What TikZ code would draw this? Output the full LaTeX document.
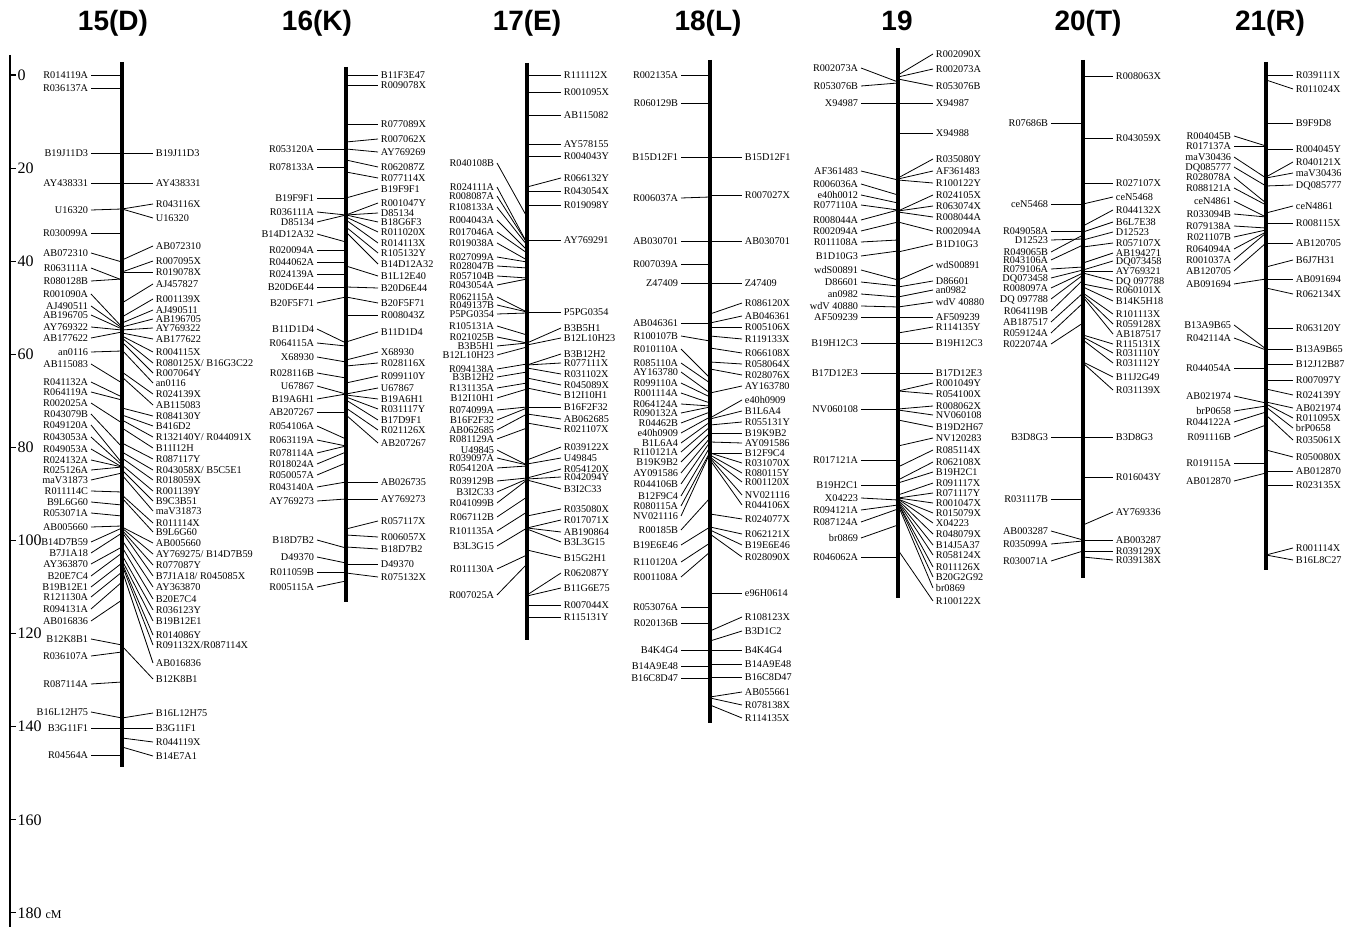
\documentclass[tikz,border=0pt]{standalone}
\usepackage{fontspec}
\setmainfont{Liberation Serif}
\newfontfamily\titlefont{Liberation Sans}
\tikzset{
  lab/.style={font=\fontsize{7.7}{8}\selectfont, inner xsep=2pt, inner ysep=0pt, text height=5.2pt, text depth=0pt},
  conn/.style={line width=0.6pt},
  chrbar/.style={line width=2.3pt},
  ttl/.style={font=\titlefont\bfseries\fontsize{21}{24}\selectfont, inner sep=0pt, anchor=base},
  axlab/.style={font=\fontsize{12}{13}\selectfont, inner sep=1pt, anchor=west},
}
\newcommand\chromo[8]{%
  \foreach \ty/\by/\tx [count=\i] in {#7} {%
    \node[lab,anchor=east] (#1L\i) at (#5,\ty) {\tx};
    \coordinate (#1l\i) at (#2,\by);
    \draw[conn] (#1L\i.east) -- (#1l\i);
  }%
  \foreach \ty/\by/\tx [count=\i] in {#8} {%
    \node[lab,anchor=west] (#1R\i) at (#6,\ty) {\tx};
    \coordinate (#1r\i) at (#2,\by);
    \draw[conn] (#1r\i) -- (#1R\i.west);
  }%
  \coordinate (#1top) at (#2,#3);
  \coordinate (#1bot) at (#2,#4);
  \draw[chrbar] (#1top) -- (#1bot);
}
\begin{document}
\begin{tikzpicture}[x=0.75pt,y=-0.75pt]
\fill[white] (0,0) rectangle (1360,930);
\path[use as bounding box] (0,0) rectangle (1360,930);

% axis
\coordinate (axtop) at (10,55);
\coordinate (axbot) at (10,927);
\draw[line width=1.6pt] (axtop) -- (axbot);
\foreach \v/\s [count=\k] in {0/0,20/20,40/40,60/60,80/80,100/100,120/120,140/140,160/160,180/{180 {\fontsize{9}{10}\selectfont cM}}} {
  \coordinate (tk\k) at (10,{75+4.655*\v});
  \coordinate (tke\k) at (16,{75+4.655*\v});
  \draw[line width=0.8pt] (tk\k) -- (tke\k);
  \node[axlab] (al\k) at (tke\k) {\s};
}

% titles
\node[ttl] (tD) at (113,31) {15(D)};
\node[ttl] (tK) at (317,31) {16(K)};
\node[ttl] (tE) at (527,31) {17(E)};
\node[ttl] (tL) at (708,31) {18(L)};
\node[ttl] (t19) at (897,31) {19};
\node[ttl] (tT) at (1088,31) {20(T)};
\node[ttl] (tR) at (1270,31) {21(R)};

% 15(D)
\chromo{D}{122}{62}{767}{91}{153}{
75/75/R014119A, 88/88/R036137A, 153/153/B19J11D3, 183/183/AY438331, 210/209/U16320,
233/233/R030099A, 253/262/AB072310, 268/280/R063111A, 281/279/R080128B, 294/327/R001090A,
306/328/AJ490511, 315/329/AB196705, 327/330/AY769322, 338/332/AB177622, 352/351/an0116,
364/383/AB115083, 382/397/R041132A, 392/400/R064119A, 403/423/R002025A, 414/447/R043079B,
425/463/R049120A, 437/465/R043053A, 449/467/R049053A, 460/467/R024132A, 470/467/R025126A,
480/473/maV31873, 491/492/R011114C, 502/505/B9L6G60, 513/516/R053071A, 527/526/AB005660,
542/528/B14D7B59, 553/533/B7J1A18, 564/547/AY363870, 576/553/B20E7C4, 587/563/B19B12E1,
597/572/R121130A, 609/582/R094131A, 621/600/AB016836, 639/645/B12K8B1, 656/652/R036107A,
684/682/R087114A, 712/718/B16L12H75, 728/728/B3G11F1, 755/755/R04564A}{
153/153/B19J11D3, 183/183/AY438331, 204/209/R043116X, 218/209/U16320, 246/260/AB072310,
261/272/R007095X, 272/272/R019078X, 284/303/AJ457827, 299/317/R001139X, 310/323/AJ490511,
319/327/AB196705, 328/330/AY769322, 339/333/AB177622, 352/336/R004115X, 363/338/{R080125X/ B16G3C22},
373/342/R007064Y, 383/350/an0116, 394/372/R024139X, 405/377/AB115083, 416/408/R084130Y,
426/415/B416D2, 437/420/{R132140Y/ R044091X}, 448/428/B11I12H, 459/443/R087117Y, 470/452/{R043058X/ B5C5E1},
480/458/R018059X, 491/465/R001139Y, 501/470/B9C3B51, 511/475/maV31873, 523/495/R011114X,
532/498/B9L6G60, 543/527/AB005660, 554/528/{AY769275/ B14D7B59}, 565/530/R077087Y, 576/532/{B7J1A18/ R045085X},
587/540/AY363870, 599/547/B20E7C4, 610/555/R036123Y, 621/560/B19B12E1, 635/563/R014086Y,
645/565/{R091132X/R087114X}, 663/570/AB016836, 679/646/B12K8B1, 713/718/B16L12H75, 728/728/B3G11F1,
742/738/R044119X, 756/747/B14E7A1}

% 16(K)
\chromo{K}{346}{67}{602}{317}{378}{
149/149/R053120A, 167/167/R078133A, 198/198/B19F9F1, 212/215/R036111A, 222/215/D85134,
234/242/B14D12A32, 250/250/R020094A, 262/262/R044062A, 274/274/R024139A, 287/287/B20D6E44,
303/297/B20F5F71, 329/343/B11D1D4, 343/346/R064115A, 357/362/X68930, 373/378/R028116B,
386/394/U67867, 399/394/B19A6H1, 412/412/AB207267, 426/439/R054106A, 440/446/R063119A,
453/446/R078114A, 464/452/R018024A, 475/463/R050057A, 487/482/R043140A, 501/499/AY769273,
540/548/B18D7B2, 557/563/D49370, 572/572/R011059B, 587/581/R005115A}{
75/75/B11F3E47, 85/85/R009078X, 124/124/R077089X, 139/142/R007062X, 152/149/AY769269,
167/160/R062087Z, 178/172/R077114X, 189/198/B19F9F1, 203/215/R001047Y, 213/215/D85134,
222/215/B18G6F3, 232/217/R011020X, 243/220/R014113X, 253/227/R105132Y, 264/232/B14D12A32,
276/266/B1L12E40, 288/287/B20D6E44, 303/297/B20F5F71, 315/315/R008043Z, 332/342/B11D1D4,
352/360/X68930, 363/366/R028116X, 376/383/R099110Y, 388/394/U67867, 399/395/B19A6H1,
409/397/R031117Y, 420/400/B17D9F1, 430/408/R021126X, 443/415/AB207267, 482/482/AB026735,
499/499/AY769273, 521/529/R057117X, 537/535/R006057X, 549/547/B18D7B2, 564/564/D49370,
577/573/R075132X}

% 17(E)
\chromo{E}{527}{63}{640}{497}{561}{
163/217/R040108B, 187/243/R024111A, 196/243/R008087A, 207/245/R108133A, 220/250/R004043A,
232/253/R017046A, 243/260/R019038A, 257/262/R027099A, 266/268/R028047B, 276/278/R057104B,
285/279/R043054A, 297/312/R062115A, 305/312/R049137B, 314/313/P5PG0354, 326/335/R105131A,
337/343/R021025B, 346/343/B3B5H1, 355/347/B12L10H23, 369/364/R094138A, 377/372/B3B12H2,
388/383/R131135A, 398/389/B12I10H1, 410/407/R074099A, 420/408/B16F2F32, 430/414/AB062685,
439/428/R081129A, 450/465/U49845, 458/465/R039097A, 468/466/R054120A, 481/478/R039129B,
492/479/B3I2C33, 503/480/R041099B, 517/497/R067112B, 531/512/R101135A, 546/528/B3L3G15,
569/555/R011130A, 595/564/R007025A}{
75/75/R111112X, 92/92/R001095X, 115/115/AB115082, 144/144/AY578155, 156/156/R004043Y,
178/187/R066132Y, 191/191/R043054X, 205/205/R019098Y, 240/240/AY769291, 312/312/P5PG0354,
328/343/B3B5H1, 338/345/B12L10H23, 354/365/B3B12H2, 363/365/R077111X, 374/368/R031102X,
385/378/R045089X, 395/388/B12I10H1, 407/407/B16F2F32, 419/414/AB062685, 429/423/R021107X,
447/460/R039122X, 458/464/U49845, 469/478/R054120X, 477/479/R042094Y, 489/480/B3I2C33,
509/516/R035080X, 520/528/R017071X, 532/528/AB190864, 542/529/B3L3G15, 558/550/B15G2H1,
573/595/R062087Y, 588/596/B11G6E75, 605/605/R007044X, 617/617/R115131Y}

% 18(L)
\chromo{L}{710}{60}{723}{681}{742}{
75/75/R002135A, 103/103/R060129B, 157/157/B15D12F1, 198/197/R006037A, 241/241/AB030701,
264/264/R007039A, 283/283/Z47409, 323/323/AB046361, 336/341/R100107B, 349/378/R010110A,
363/383/R085110A, 372/393/AY163780, 383/397/R099110A, 393/403/R001114A, 404/406/R064124A,
413/407/R090132A, 423/412/R04462B, 433/417/e40h0909, 443/422/B1L6A4, 452/427/R110121A,
462/433/B19K9B2, 473/438/AY091586, 484/442/R044106B, 496/447/B12F9C4, 506/452/R080115A,
516/453/NV021116, 530/498/R00185B, 545/527/B19E6E46, 562/543/R110120A, 577/552/R001108A,
607/607/R053076A, 623/623/R020136B, 650/650/B4K4G4, 666/666/B14A9E48, 678/678/B16C8D47}{
157/157/B15D12F1, 195/195/R007027X, 241/241/AB030701, 283/283/Z47409, 303/314/R086120X,
316/323/AB046361, 327/327/R005106X, 339/336/R119133X, 353/348/R066108X, 364/362/R058064X,
375/369/R028076X, 386/393/AY163780, 400/418/e40h0909, 411/419/B1L6A4, 422/425/R055131Y,
433/433/B19K9B2, 443/442/AY091586, 453/453/B12F9C4, 463/453/R031070X, 473/455/R080115Y,
482/457/R001120X, 495/458/NV021116, 505/460/R044106X, 519/514/R024077X, 534/527/R062121X,
545/530/B19E6E46, 557/534/R028090X, 593/593/e96H0614, 617/631/R108123X, 631/641/B3D1C2,
650/650/B4K4G4, 664/664/B14A9E48, 677/677/B16C8D47, 692/697/AB055661, 705/698/R078138X,
718/705/R114135X}

% 19
\chromo{N}{898}{48}{598}{861}{933}{
68/82/R002073A, 86/83/R053076B, 103/103/X94987, 171/180/AF361483, 184/195/R006036A,
195/203/e40h0012, 205/210/R077110A, 220/210/R008044A, 231/222/R002094A, 242/240/R011108A,
256/251/B1D10G3, 270/280/wdS00891, 282/286/D86601, 294/297/an0982, 306/307/{wdV 40880},
317/317/AF509239, 343/343/B19H12C3, 373/373/B17D12E3, 409/409/NV060108, 460/460/R017121A,
485/485/B19H2C1, 498/500/X04223, 510/505/R094121A, 522/509/R087124A, 538/525/br0869,
557/557/R046062A}{
54/75/R002090X, 69/77/R002073A, 86/79/R053076B, 103/103/X94987, 133/133/X94988,
159/178/R035080Y, 171/179/AF361483, 183/180/R100122Y, 195/211/R024105X, 206/211/R063074X,
217/212/R008044A, 231/222/R002094A, 244/252/B1D10G3, 265/280/wdS00891, 281/287/D86601,
290/297/an0982, 302/307/{wdV 40880}, 317/317/AF509239, 327/333/R114135Y, 343/343/B19H12C3,
373/373/B17D12E3, 383/391/R001049Y, 394/391/R054100X, 406/409/R008062X, 415/410/NV060108,
427/420/B19D2H67, 438/446/NV120283, 450/467/R085114X, 462/480/R062108X, 472/483/B19H2C1,
483/495/R091117X, 493/498/R071117Y, 503/498/R001047X, 513/499/R015079X, 523/499/X04223,
534/500/R048079X, 545/501/B14J5A37, 555/502/R058124X, 567/503/R011126X, 577/503/B20G2G92,
588/505/br0869, 601/550/R100122X}

% 20(T)
\chromo{T}{1083}{60}{578}{1051}{1113}{
123/123/R07686B, 204/204/ceN5468, 231/231/R049058A, 240/239/D12523, 252/235/R049065B,
260/245/R043106A, 269/267/R079106A, 278/270/DQ073458, 288/273/R008097A, 299/275/{DQ 097788},
311/280/R064119B, 322/293/AB187517, 333/303/R059124A, 344/323/R022074A, 437/437/B3D8G3,
499/499/R031117B, 531/540/AB003287, 544/541/R035099A, 561/551/R030071A}{
76/76/R008063X, 138/138/R043059X, 183/183/R027107X, 197/204/ceN5468, 210/226/R044132X,
222/232/B6L7E38, 232/240/D12523, 243/247/R057107X, 253/263/AB194271, 261/270/DQ073458,
271/271/AY769321, 281/273/{DQ 097788}, 290/284/R060101X, 301/287/B14K5H18, 314/293/R101113X,
324/295/R059128X, 334/297/AB187517, 344/335/R115131X, 353/337/R031110Y, 363/340/R031112Y,
377/362/B11J2G49, 390/363/R031139X, 437/437/B3D8G3, 477/477/R016043Y, 512/525/AY769336,
540/540/AB003287, 551/551/R039129X, 560/557/R039138X}

% 21(R)
\chromo{R}{1266}{62}{570}{1234}{1293}{
136/146/R004045B, 146/146/R017137A, 157/178/maV30436, 167/186/DQ085777, 177/203/R028078A,
188/205/R088121A, 201/217/ceN4861, 214/217/R033094B, 226/228/R079138A, 237/230/R021107B,
249/232/R064094A, 260/233/R001037A, 271/243/AB120705, 284/279/AB091694, 325/349/B13A9B65,
338/350/R042114A, 368/368/R044054A, 396/403/AB021974, 411/406/brP0658, 422/412/R044122A,
437/425/R091116B, 463/463/R019115A, 481/473/AB012870}{
75/75/R039111X, 89/80/R011024X, 123/123/B9F9D8, 149/149/R004045Y, 162/177/R040121X,
173/178/maV30436, 185/186/DQ085777, 206/213/ceN4861, 223/223/R008115X, 243/243/AB120705,
260/267/B6J7H31, 279/279/AB091694, 294/288/R062134X, 328/328/R063120Y, 349/349/B13A9B65,
364/364/B12J12B87, 380/380/R007097Y, 395/389/R024139Y, 408/402/AB021974, 418/404/R011095X,
428/407/brP0658, 440/415/R035061X, 457/450/R050080X, 471/471/AB012870, 485/485/R023135X,
548/555/R001114X, 560/555/B16L8C27}
\end{tikzpicture}
\end{document}
